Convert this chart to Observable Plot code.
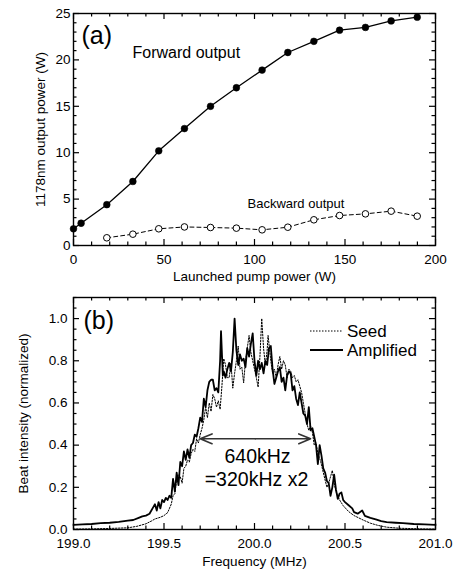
<!DOCTYPE html>
<html><head><meta charset="utf-8">
<script src="https://cdn.jsdelivr.net/npm/d3@7"></script>
<script src="https://cdn.jsdelivr.net/npm/@observablehq/plot@0.6"></script>
<style>
body{margin:0;background:#fff;}
#wrap{position:relative;width:453px;height:570px;background:#fff;}
#wrap svg{display:block;}
</style></head><body><div id="wrap"></div>
<script>
// ---------- Panel (a) data ----------
const pumpForward = [0, 4.2, 18.4, 32.8, 47.1, 61.3, 75.7, 90, 104.2, 118.4, 132.8, 147, 161.3, 175.5, 189.9];
const forwardPower = [1.8, 2.4, 4.4, 6.9, 10.2, 12.6, 15.0, 17.0, 18.9, 20.8, 22.0, 23.2, 23.5, 24.2, 24.6];
const pumpBackward = [18.4, 32.8, 47.1, 61.3, 75.7, 90, 104.2, 118.4, 132.8, 147, 161.3, 175.5, 189.9];
const backwardPower = [0.83, 1.22, 1.8, 2.0, 1.94, 1.87, 1.69, 1.97, 2.77, 3.23, 3.41, 3.7, 3.16];
const aXTicks = [0, 50, 100, 150, 200];
const aYTicks = [0, 5, 10, 15, 20, 25];

// ---------- Panel (b) data ----------
const ampFreq = [199.00,199.05,199.10,199.15,199.20,199.25,199.30,199.33,199.36,199.38,199.40,199.42,199.44,199.45,199.46,199.47,199.48,199.49,199.50,199.51,199.52,199.53,199.54,199.55,199.56,199.57,199.58,199.59,199.60,199.61,199.62,199.63,199.64,199.65,199.66,199.67,199.68,199.69,199.70,199.71,199.72,199.73,199.74,199.75,199.76,199.77,199.78,199.79,199.80,199.81,199.815,199.825,199.83,199.84,199.85,199.86,199.87,199.88,199.89,199.90,199.91,199.92,199.93,199.94,199.95,199.96,199.97,199.98,199.99,200.00,200.01,200.02,200.03,200.04,200.05,200.06,200.07,200.08,200.09,200.10,200.11,200.12,200.13,200.14,200.15,200.16,200.17,200.18,200.19,200.20,200.21,200.22,200.23,200.24,200.25,200.26,200.27,200.28,200.29,200.30,200.31,200.32,200.33,200.34,200.35,200.36,200.37,200.38,200.39,200.40,200.41,200.42,200.43,200.44,200.45,200.46,200.47,200.48,200.49,200.50,200.52,200.54,200.55,200.57,200.595,200.61,200.64,200.67,200.70,200.73,200.78,200.82,200.88,200.94,201.00];
const ampValue = [0.022,0.024,0.026,0.030,0.032,0.036,0.042,0.045,0.055,0.062,0.066,0.075,0.105,0.12,0.09,0.13,0.10,0.14,0.13,0.15,0.14,0.16,0.15,0.24,0.18,0.27,0.21,0.32,0.30,0.37,0.33,0.38,0.34,0.40,0.41,0.45,0.44,0.48,0.53,0.51,0.62,0.58,0.66,0.70,0.71,0.71,0.66,0.67,0.65,0.80,0.94,0.73,0.75,0.72,0.76,0.79,0.75,0.84,1.00,0.85,0.78,0.83,0.80,0.81,0.77,0.86,0.82,0.88,0.93,0.80,0.73,0.80,0.76,0.79,0.74,0.80,0.78,0.86,0.87,0.76,0.69,0.72,0.75,0.77,0.70,0.72,0.66,0.73,0.75,0.74,0.66,0.68,0.62,0.59,0.65,0.60,0.55,0.54,0.50,0.58,0.47,0.48,0.44,0.40,0.31,0.40,0.35,0.29,0.27,0.23,0.22,0.16,0.20,0.26,0.19,0.145,0.17,0.176,0.14,0.13,0.115,0.10,0.082,0.075,0.09,0.065,0.055,0.048,0.040,0.035,0.032,0.030,0.026,0.024,0.022];
const seedFreq = [199.00,199.10,199.20,199.30,199.35,199.40,199.43,199.45,199.48,199.50,199.52,199.54,199.55,199.56,199.57,199.58,199.59,199.60,199.61,199.62,199.63,199.64,199.65,199.66,199.67,199.68,199.69,199.70,199.71,199.72,199.73,199.74,199.75,199.76,199.77,199.78,199.79,199.80,199.81,199.82,199.83,199.84,199.85,199.86,199.87,199.88,199.89,199.90,199.91,199.92,199.93,199.94,199.95,199.96,199.97,199.98,199.99,200.00,200.01,200.02,200.03,200.04,200.05,200.06,200.07,200.075,200.09,200.10,200.11,200.12,200.13,200.14,200.15,200.16,200.17,200.18,200.19,200.20,200.21,200.22,200.23,200.24,200.25,200.26,200.27,200.28,200.29,200.30,200.31,200.32,200.33,200.34,200.35,200.365,200.38,200.40,200.41,200.43,200.44,200.45,200.47,200.49,200.52,200.55,200.60,200.64,200.68,200.73,200.80,200.92,201.00];
const seedValue = [0.002,0.003,0.005,0.008,0.015,0.027,0.04,0.05,0.058,0.066,0.08,0.12,0.16,0.17,0.24,0.26,0.25,0.22,0.29,0.30,0.33,0.32,0.36,0.38,0.37,0.43,0.41,0.45,0.48,0.52,0.58,0.53,0.60,0.56,0.64,0.62,0.58,0.61,0.57,0.68,0.81,0.78,0.72,0.72,0.79,0.67,0.74,0.80,0.87,0.76,0.77,0.695,0.80,0.86,0.92,0.84,0.80,0.76,0.72,0.675,0.82,1.00,0.86,0.78,0.85,0.92,0.80,0.74,0.76,0.72,0.78,0.82,0.76,0.80,0.78,0.72,0.76,0.75,0.72,0.73,0.70,0.71,0.68,0.65,0.60,0.55,0.50,0.47,0.49,0.46,0.40,0.41,0.36,0.325,0.27,0.20,0.22,0.28,0.22,0.18,0.14,0.113,0.085,0.066,0.045,0.03,0.02,0.011,0.006,0.003,0.002];
const bXTicks = [199.0, 199.5, 200.0, 200.5, 201.0];
const bYTicks = [0, 0.2, 0.4, 0.6, 0.8, 1.0];
const widthArrow = [199.70, 200.31];   // ends of the 640 kHz arrow (MHz)
const widthArrowLevel = 0.43;

const forward = pumpForward.map((p, i) => ({p, w: forwardPower[i]}));
const backward = pumpBackward.map((p, i) => ({p, w: backwardPower[i]}));
const amplified = ampFreq.map((f, i) => ({f, v: ampValue[i]}));
const seedRows = seedFreq.map((f, i) => ({f, v: seedValue[i]}));

const FONT = "Liberation Sans, Arial, Helvetica, sans-serif";
const W = 453, H = 285;

function boxTicks(majX, minX, majY, minY, innerW, innerH) {
  const M = 6, m = 3.5;
  const st = {stroke: "black", strokeWidth: 1.2};
  return [
    Plot.ruleX(majX, {x: d => d, insetTop: innerH - M, ...st}),
    Plot.ruleX(majX, {x: d => d, insetBottom: innerH - M, ...st}),
    Plot.ruleX(minX, {x: d => d, insetTop: innerH - m, ...st}),
    Plot.ruleX(minX, {x: d => d, insetBottom: innerH - m, ...st}),
    Plot.ruleY(majY, {y: d => d, insetRight: innerW - M, ...st}),
    Plot.ruleY(majY, {y: d => d, insetLeft: innerW - M, ...st}),
    Plot.ruleY(minY, {y: d => d, insetRight: innerW - m, ...st}),
    Plot.ruleY(minY, {y: d => d, insetLeft: innerW - m, ...st})
  ];
}

// ---------- Panel (a) ----------
const aM = {top: 13, right: 18, bottom: 40, left: 73};
const aInW = W - aM.left - aM.right, aInH = H - aM.top - aM.bottom;
const aMinX = d3.range(0, 201, 10).filter(d => d % 50 !== 0);
const aMinY = d3.range(0, 25.1, 1).filter(d => d % 5 !== 0);

const plotA = Plot.plot({
  width: W, height: H,
  marginTop: aM.top, marginRight: aM.right, marginBottom: aM.bottom, marginLeft: aM.left,
  style: {fontFamily: FONT, fontSize: "13.5px", background: "white", overflow: "visible", color: "black"},
  x: {domain: [0, 200]},
  y: {domain: [0, 25]},
  marks: [
    Plot.axisX({ticks: aXTicks, tickSize: 0, tickPadding: 9, label: null, fontSize: 13.5, tickFormat: d => d}),
    Plot.axisY({ticks: aYTicks, tickSize: 0, tickPadding: 3, label: null, fontSize: 13.5, tickFormat: d => d}),
    Plot.line(backward, {x: "p", y: "w", stroke: "black", strokeWidth: 1, strokeDasharray: "4,3"}),
    Plot.dot(backward, {x: "p", y: "w", r: 3.3, fill: "white", stroke: "black", strokeWidth: 1}),
    Plot.line(forward, {x: "p", y: "w", stroke: "black", strokeWidth: 1.3}),
    Plot.dot(forward, {x: "p", y: "w", r: 3.4, fill: "black", stroke: "black", strokeWidth: 0.5}),
    Plot.frame({stroke: "black", strokeWidth: 1.4}),
    ...boxTicks(aXTicks, aMinX, aYTicks, aMinY, aInW, aInH),
    Plot.text(["(a)"], {frameAnchor: "top-left", text: d => d, dx: 8, dy: 30, fontSize: 25, textAnchor: "start", lineAnchor: "bottom"}),
    Plot.text(["Forward output"], {frameAnchor: "top-left", text: d => d, dx: 59, dy: 44, fontSize: 16, textAnchor: "start", lineAnchor: "bottom"}),
    Plot.text(["Backward output"], {frameAnchor: "top-left", text: d => d, dx: 174, dy: 194, fontSize: 13, textAnchor: "start", lineAnchor: "bottom"}),
    Plot.text(["Launched pump power (W)"], {frameAnchor: "bottom", text: d => d, dy: 35, fontSize: 13.5, textAnchor: "middle", lineAnchor: "bottom"}),
    Plot.text(["1178nm output power (W)"], {frameAnchor: "left", text: d => d, dx: -29, rotate: -90, fontSize: 13.5, textAnchor: "middle", lineAnchor: "bottom"})
  ]
});

// ---------- Panel (b) ----------
const bM = {top: 12, right: 18, bottom: 41, left: 73};
const bInW = W - bM.left - bM.right, bInH = H - bM.top - bM.bottom;
const bMinX = d3.range(0, 21).map(i => 199 + i * 0.1).filter((d, i) => i % 5 !== 0);
const bMinY = d3.range(0, 23).map(i => i * 0.05).filter((d, i) => i % 4 !== 0);
const mid = (widthArrow[0] + widthArrow[1]) / 2;

const plotB = Plot.plot({
  width: W, height: H,
  marginTop: bM.top, marginRight: bM.right, marginBottom: bM.bottom, marginLeft: bM.left,
  style: {fontFamily: FONT, fontSize: "13.5px", background: "white", overflow: "visible", color: "black"},
  x: {domain: [199, 201]},
  y: {domain: [0, 1.1]},
  marks: [
    Plot.axisX({ticks: bXTicks, tickSize: 0, tickPadding: 9, label: null, fontSize: 13.5, tickFormat: d3.format(".1f")}),
    Plot.axisY({ticks: bYTicks, tickSize: 0, tickPadding: 6, label: null, fontSize: 13.5, tickFormat: d3.format(".1f")}),
    Plot.line(seedRows, {x: "f", y: "v", stroke: "black", strokeWidth: 1, strokeDasharray: "1.5,1.5"}),
    Plot.line(amplified, {x: "f", y: "v", stroke: "black", strokeWidth: 1.8}),
    Plot.arrow([{a: mid, b: widthArrow[0]}, {a: mid, b: widthArrow[1]}], {
      x1: "a", x2: "b", y1: () => widthArrowLevel, y2: () => widthArrowLevel,
      stroke: "#333", strokeWidth: 1.6, headLength: 12, headAngle: 45
    }),
    Plot.frame({stroke: "black", strokeWidth: 1.4}),
    ...boxTicks(bXTicks, bMinX, bYTicks, bMinY, bInW, bInH),
    Plot.text(["(b)"], {frameAnchor: "top-left", text: d => d, dx: 10, dy: 31, fontSize: 25, textAnchor: "start", lineAnchor: "bottom"}),
    Plot.text(["640kHz"], {frameAnchor: "top", text: d => d, dx: 3, dy: 165, fontSize: 19.5, textAnchor: "middle", lineAnchor: "bottom"}),
    Plot.text(["=320kHz x2"], {frameAnchor: "top", text: d => d, dx: 2, dy: 188, fontSize: 19.5, textAnchor: "middle", lineAnchor: "bottom"}),
    Plot.text(["Frequency (MHz)"], {frameAnchor: "bottom", text: d => d, dy: 36, fontSize: 13.5, textAnchor: "middle", lineAnchor: "bottom"}),
    Plot.text(["Beat intensity (normalized)"], {frameAnchor: "left", text: d => d, dx: -45.5, rotate: -90, fontSize: 13.5, textAnchor: "middle", lineAnchor: "bottom"})
  ]
});

const wrap = document.getElementById("wrap");
wrap.appendChild(plotA);
wrap.appendChild(plotB);

// legend (inside panel b, top right)
const legend = d3.select(wrap).append("svg")
  .attr("width", 130).attr("height", 50)
  .style("position", "absolute").style("left", "305px").style("top", "318px")
  .style("font-family", FONT).style("font-size", "17px");
const legendItems = [
  {name: "Seed", dash: "1.5,1.5", w: 1},
  {name: "Amplified", dash: null, w: 2}
];
legendItems.forEach((d, i) => {
  const y = 13 + i * 19;
  legend.append("line").attr("x1", 5).attr("x2", 38).attr("y1", y).attr("y2", y)
    .attr("stroke", "black").attr("stroke-width", d.w).attr("stroke-dasharray", d.dash);
  legend.append("text").attr("x", 42).attr("y", y + 6).text(d.name);
});
</script></body></html>
